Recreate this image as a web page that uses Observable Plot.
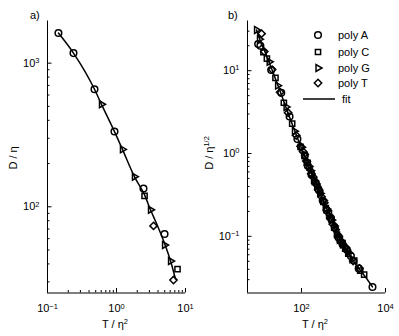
<!DOCTYPE html>
<html><head><meta charset="utf-8">
<script src="https://cdn.jsdelivr.net/npm/d3@7"></script>
<script src="https://cdn.jsdelivr.net/npm/@observablehq/plot@0.6"></script>
<style>
body{margin:0;background:#fff;}
#wrap{display:flex;width:399px;height:336px;}
svg{font-family:"Liberation Sans",Arial,Helvetica,sans-serif;}
</style></head><body><div id="wrap"></div>
<script>
// ---------- Panel a data ----------
const aA_T = [0.144, 0.238, 0.48, 0.935, 2.46, 4.97];
const aA_D = [1620, 1175, 658, 334, 134, 64.7];
const aC_T = [2.55, 7.66];
const aC_D = [119, 36.8];
const aG_T = [0.606, 1.22, 1.82, 3.11, 4.97, 6.07];
const aG_D = [517, 251, 162, 95.3, 54.2, 41.9];
const aTT_T = [3.44, 6.70];
const aTT_D = [73.6, 30.9];
const aFit_T = [0.144, 0.238, 0.48, 0.606, 0.935, 1.22, 1.82, 2.55, 3.11, 3.93, 5.13, 6.07, 7.16];
const aFit_D = [1620, 1175, 658, 517, 334, 251, 162, 121, 95.3, 73.6, 53.3, 41.9, 31.4];
const aXMajor = [0.1, 1, 10];
const aXMinor = [0.2,0.3,0.4,0.5,0.6,0.7,0.8,0.9,2,3,4,5,6,7,8,9];
const aYMajor = [100, 1000];
const aYMinor = [30,40,50,60,70,80,90,200,300,400,500,600,700,800,900];

// ---------- Panel b data ----------
const bA_T = [9.3, 10.5, 19, 33, 52, 80, 120, 140, 175, 220, 260, 320, 400, 500, 620, 760, 950, 1200, 1500, 2300, 4900];
const bA_D = [21, 20, 10.2, 5.4, 2.8, 1.5, 0.95, 0.72, 0.55, 0.44, 0.36, 0.27, 0.205, 0.165, 0.128, 0.097, 0.080, 0.069, 0.058, 0.041, 0.0245];
const bC_T = [12.4, 15, 24, 38, 60, 95, 120, 140, 170, 200, 240, 280, 330, 380, 450, 520, 600, 700, 820, 950, 1100, 1300, 1800, 2500, 3100];
const bC_D = [16.7, 14.0, 8.2, 4.1, 2.3, 1.2, 0.93, 0.77, 0.57, 0.47, 0.40, 0.335, 0.26, 0.22, 0.19, 0.158, 0.127, 0.105, 0.093, 0.083, 0.071, 0.062, 0.051, 0.0385, 0.0345];
const bG_T = [8.5, 10, 17, 27, 43, 68, 100, 115, 130, 150, 165, 200, 230, 280, 330, 390, 450, 520, 600, 700, 800, 950, 1100, 1300, 1600];
const bG_D = [31, 24, 12.8, 6.6, 3.65, 1.86, 1.19, 0.97, 0.80, 0.70, 0.62, 0.47, 0.40, 0.33, 0.272, 0.215, 0.18, 0.157, 0.133, 0.106, 0.091, 0.080, 0.074, 0.064, 0.053];
const bTT_T = [11.2, 13, 20, 31, 48, 75, 95, 110, 130, 150, 170, 190, 220, 250, 300, 350, 410, 480, 560, 650, 760, 880, 1000, 1200, 1700, 2400];
const bTT_D = [28, 17, 10.3, 5.5, 3.1, 1.65, 1.22, 1.05, 0.81, 0.67, 0.57, 0.52, 0.43, 0.365, 0.30, 0.255, 0.21, 0.166, 0.14, 0.12, 0.10, 0.085, 0.077, 0.069, 0.0505, 0.041];
const bFit_T = [8.5, 9.5, 13.9, 20.4, 31.6, 49, 76, 112, 164, 283, 490, 760, 1117, 1930, 3340, 4900];
const bFit_D = [31, 26.2, 16.3, 9.9, 5.49, 2.97, 1.65, 1.0, 0.622, 0.327, 0.168, 0.0986, 0.0705, 0.0464, 0.0323, 0.0245];
const bXMajor = [100, 10000];
const bYMajor = [0.1, 1, 10];
const bYMinor = [0.03,0.04,0.05,0.06,0.07,0.08,0.09,0.2,0.3,0.4,0.5,0.6,0.7,0.8,0.9,2,3,4,5,6,7,8,9,20,30];

const legendNames = ["poly A", "poly C", "poly G", "poly T"];

// right-pointing triangle (MATLAB '>')
const triRight = {draw(ctx, size){
  const R = Math.sqrt(size/Math.PI)*1.2;
  ctx.moveTo(R,0); ctx.lineTo(-R/2, R*0.866); ctx.lineTo(-R/2, -R*0.866); ctx.closePath();
}};
const symbols = ["circle", "square2", triRight, "diamond2"];
const d3Symbols = [d3.symbolCircle, d3.symbolSquare2, triRight, d3.symbolDiamond2];

const zip = (T, D) => T.map((t,i)=>({T:t, D:D[i]}));
const H = 336, mT = 20.5, mB = 43.5, mL = 47;
const innerH = H - mT - mB;
const fmt = d => "10^" + Math.round(Math.log10(d));
const FS = 11;
const FONT = '"Liberation Sans",Arial,Helvetica,sans-serif';

function panel({width, mR, xDomain, yDomain, xMajor, xMinor, yMajor, yMinor, series, fit}){
  const innerW = width - mL - mR;
  const marks = [];
  marks.push(Plot.ruleX([xDomain[0]], {stroke:"#000", strokeWidth:1}));
  marks.push(Plot.ruleY([yDomain[0]], {stroke:"#000", strokeWidth:1}));
  if (xMinor.length) marks.push(Plot.tickX(xMinor, {x:d=>d, insetTop: innerH-2.5, stroke:"#000"}));
  marks.push(Plot.tickX(xMajor, {x:d=>d, insetTop: innerH-4.5, stroke:"#000"}));
  marks.push(Plot.tickY(yMinor, {y:d=>d, insetRight: innerW-2.5, stroke:"#000"}));
  marks.push(Plot.tickY(yMajor, {y:d=>d, insetRight: innerW-4.5, stroke:"#000"}));
  marks.push(Plot.axisX({ticks: xMajor, tickSize:0, tickPadding:11.5, tickFormat: fmt, fontSize: FS, fill:"#000", label:null}));
  marks.push(Plot.axisY({ticks: yMajor, tickSize:0, tickPadding:8, tickFormat: fmt, fontSize: FS, fill:"#000", label:null}));
  marks.push(Plot.line(fit, {x:"T", y:"D", stroke:"#000", strokeWidth:1.5, curve:"monotone-x"}));
  series.forEach((s,i)=>{
    marks.push(Plot.dot(s, {x:"T", y:"D", symbol: ()=>symbols[i], r:3.3, stroke:"#000", strokeWidth:1.5, fill:"none"}));
  });
  const svg = Plot.plot({
    width, height:H, marginTop:mT, marginBottom:mB, marginLeft:mL, marginRight:mR,
    x:{type:"log", domain:xDomain, label:null}, y:{type:"log", domain:yDomain, label:null},
    symbol:{type:"identity"},
    style:{fontFamily:FONT, background:"#fff", overflow:"visible"},
    marks
  });
  d3.select(svg).selectAll('g[aria-label$="tick label"] text').each(function(){
    const t = this.textContent; const i = t.indexOf("^");
    if (i < 0) return;
    const base = t.slice(0,i), exp = t.slice(i+1).replace("-", "\u2212");
    const s = d3.select(this); s.text(null);
    s.append("tspan").text(base);
    s.append("tspan").attr("dy","-0.5em").attr("font-size","0.68em").text(exp);
  });
  return svg;
}

function addText(svg, {x, y, rotate=0, anchor="middle", base, sup}){
  const t = d3.select(svg).append("text")
    .attr("transform", `translate(${x},${y}) rotate(${rotate})`)
    .attr("text-anchor", anchor).attr("font-size", FS).attr("fill","#000")
    .attr("font-family", FONT);
  t.append("tspan").text(base);
  if (sup) t.append("tspan").attr("dy","-0.5em").attr("font-size","0.68em").text(sup);
  return t;
}

const wrap = document.getElementById("wrap");

// Panel a
const svgA = panel({
  width:200, mR:15, xDomain:[0.1,10], yDomain:[25.1,1966],
  xMajor:aXMajor, xMinor:aXMinor, yMajor:aYMajor, yMinor:aYMinor,
  series:[zip(aA_T,aA_D), zip(aC_T,aC_D), zip(aG_T,aG_D), zip(aTT_T,aTT_D)],
  fit: zip(aFit_T, aFit_D)
});
addText(svgA, {x:30, y:19, anchor:"start", base:"a)"});
addText(svgA, {x:17, y:158, rotate:-90, base:"D / \u03b7"});
addText(svgA, {x:115, y:328, base:"T / \u03b7", sup:"2"});
wrap.appendChild(svgA);

// Panel b
const svgB = panel({
  width:199, mR:14, xDomain:[5.18,10000], yDomain:[0.0207,39.8],
  xMajor:bXMajor, xMinor:[], yMajor:bYMajor, yMinor:bYMinor,
  series:[zip(bA_T,bA_D), zip(bC_T,bC_D), zip(bG_T,bG_D), zip(bTT_T,bTT_D)],
  fit: zip(bFit_T, bFit_D)
});
addText(svgB, {x:28, y:19, anchor:"start", base:"b)"});
addText(svgB, {x:13, y:153, rotate:-90, base:"D / \u03b7", sup:"1/2"});
addText(svgB, {x:115, y:328, base:"T / \u03b7", sup:"2"});
// legend
const lg = d3.select(svgB).append("g").attr("text-anchor","start");
const rowY = [35, 52, 68, 83];
legendNames.forEach((name,i)=>{
  lg.append("path").attr("transform",`translate(118,${rowY[i]})`)
    .attr("d", d3.symbol(d3Symbols[i], Math.PI*3.3*3.3)())
    .attr("fill","none").attr("stroke","#000").attr("stroke-width",1.5);
  lg.append("text").attr("x",138).attr("y",rowY[i]).attr("dy","0.35em").attr("font-size",FS)
    .attr("text-anchor","start").attr("font-family",FONT).text(name);
});
lg.append("line").attr("x1",103).attr("x2",135).attr("y1",99).attr("y2",99).attr("stroke","#000").attr("stroke-width",1.5);
lg.append("text").attr("x",142).attr("y",99).attr("dy","0.35em").attr("font-size",FS)
  .attr("text-anchor","start").attr("font-family",FONT).text("fit");
wrap.appendChild(svgB);
</script></body></html>
